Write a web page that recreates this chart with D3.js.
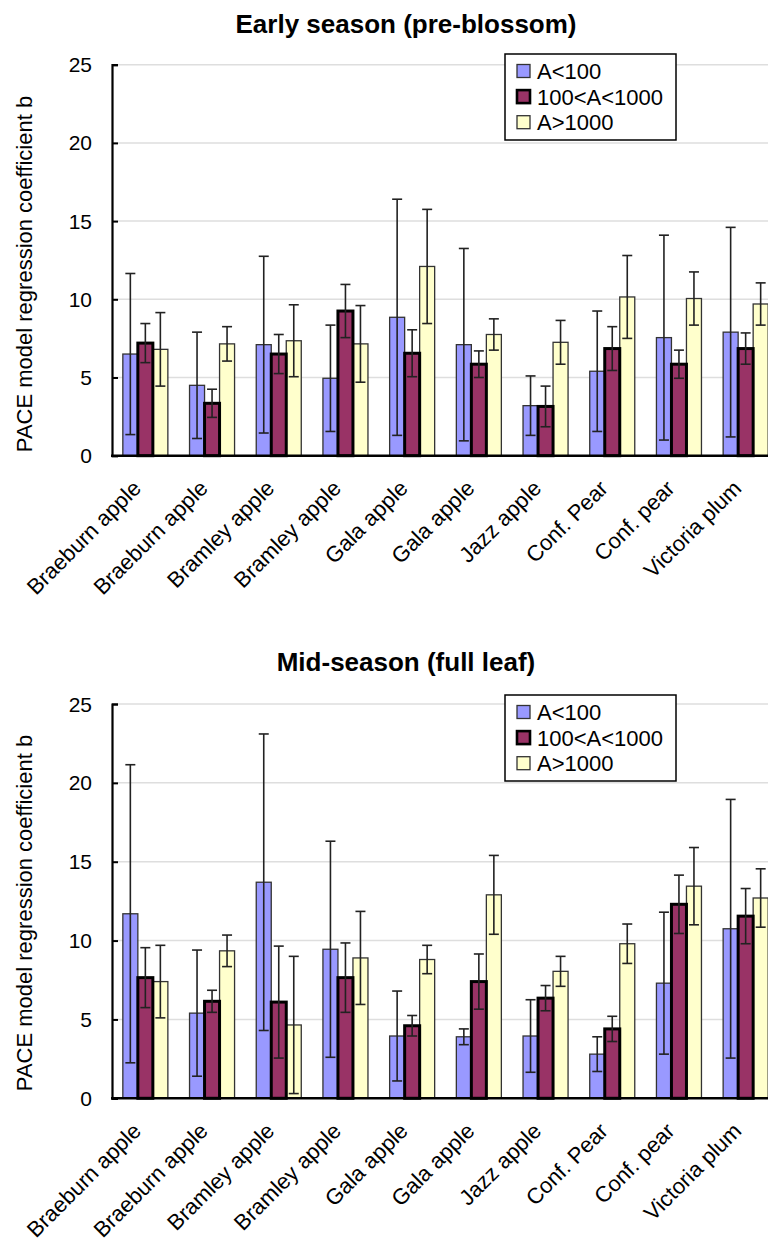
<!DOCTYPE html>
<html>
<head>
<meta charset="utf-8">
<script src="https://cdn.jsdelivr.net/npm/d3@7"></script>
<style>
  body { margin: 0; background: #fff; }
  svg { display: block; font-family: "Liberation Sans", Arial, sans-serif; }
</style>
</head>
<body>
<div id="chart"></div>
<script>
// categories (two of each apple kind in the source)
const categories = ["Braeburn apple", "Braeburn apple", "Bramley apple", "Bramley apple", "Gala apple",
    "Gala apple", "Jazz apple", "Conf. Pear", "Conf. pear", "Victoria plum"];
const seriesNames = ["A<100", "100<A<1000", "A>1000"];
const yTicks = [0, 5, 10, 15, 20, 25];

// Early season (pre-blossom)
const early_low = [6.5, 4.5, 7.1, 4.95, 8.85, 7.1, 3.2, 5.4, 7.55, 7.9];
const early_low_err = [5.15, 3.4, 5.65, 3.4, 7.55, 6.15, 1.9, 3.85, 6.55, 6.7];
const early_mid = [7.2, 3.35, 6.5, 9.25, 6.55, 5.85, 3.15, 6.85, 5.85, 6.85];
const early_mid_err = [1.25, 0.9, 1.25, 1.7, 1.5, 0.85, 1.3, 1.4, 0.9, 1.0];
const early_high = [6.8, 7.15, 7.35, 7.15, 12.1, 7.75, 7.25, 10.15, 10.05, 9.7];
const early_high_err = [2.35, 1.1, 2.3, 2.45, 3.65, 1.0, 1.4, 2.65, 1.7, 1.35];

// Mid-season (full leaf)
const mid_low = [11.7, 5.4, 13.7, 9.45, 3.95, 3.9, 3.95, 2.8, 7.3, 10.75];
const mid_low_err = [9.45, 4.0, 9.4, 6.85, 2.85, 0.5, 2.3, 1.1, 4.5, 8.2];
const mid_mid = [7.65, 6.15, 6.1, 7.65, 4.6, 7.4, 6.35, 4.4, 12.3, 11.55];
const mid_mid_err = [1.9, 0.7, 3.55, 2.2, 0.65, 1.75, 0.8, 0.8, 1.85, 1.75];
const mid_high = [7.4, 9.35, 4.65, 8.9, 8.8, 12.9, 8.05, 9.8, 13.45, 12.7];
const mid_high_err = [2.3, 1.0, 4.35, 2.95, 0.9, 2.5, 0.95, 1.25, 2.45, 1.85];

const W = 768, H = 1243;
const fills = ["#9999ff", "#993366", "#ffffcc"];
const strokes = ["#333", "#000", "#333"];
const strokeW = [1.3, 3, 1.3];

const svg = d3.select("#chart").append("svg").attr("width", W).attr("height", H);

function drawChart(opt) {
    const { title, titleY, y0, y1, legendY, labelCY, values, errors } = opt;

    const x = d3.scaleBand()
        .domain(d3.range(categories.length))
        .range([112, 779])
        .paddingInner(0.325)
        .paddingOuter(0.1625);
    const xs = d3.scaleBand().domain(d3.range(3)).range([0, x.bandwidth()]);
    const y = d3.scaleLinear().domain([0, 25]).range([y0, y1]);

    const g = svg.append("g");

    g.append("text")
        .attr("x", 406).attr("y", titleY)
        .attr("text-anchor", "middle")
        .style("font-size", "26px").style("font-weight", "bold")
        .text(title);

    // grid
    g.selectAll(".grid").data(yTicks.filter(d => d > 0)).enter().append("line")
        .attr("x1", 112).attr("x2", W)
        .attr("y1", d => y(d)).attr("y2", d => y(d))
        .attr("stroke", "#dedede").attr("stroke-width", 1.5);

    // y axis
    const ya = g.append("g").attr("transform", "translate(112,0)")
        .call(d3.axisRight(y).tickValues(yTicks).tickSize(6).tickFormat(""));
    ya.select(".domain").attr("stroke", "#000").attr("stroke-width", 2.2);
    ya.selectAll(".tick line").attr("stroke", "#000").attr("stroke-width", 2);

    g.selectAll(".ylab").data(yTicks).enter().append("text")
        .attr("x", 92).attr("y", d => y(d)).attr("dy", "0.36em")
        .attr("text-anchor", "end").style("font-size", "21px")
        .text(d => d);

    g.append("text")
        .attr("transform", `translate(32,${labelCY}) rotate(-90)`)
        .attr("text-anchor", "middle").style("font-size", "22px")
        .text("PACE model regression coefficient b");

    // bars (maroon drawn last so its thick border stays visible)
    [0, 2, 1].forEach(s => {
        g.selectAll(".bar" + s).data(values[s]).enter().append("rect")
            .attr("x", (d, i) => x(i) + xs(s))
            .attr("y", d => y(d))
            .attr("width", xs.bandwidth())
            .attr("height", d => y(0) - y(d))
            .attr("fill", fills[s])
            .attr("stroke", strokes[s])
            .attr("stroke-width", strokeW[s]);
    });

    // error bars
    for (let s = 0; s < 3; s++) {
        const eg = g.append("g").attr("stroke", "#222").attr("stroke-width", 1.6);
        values[s].forEach((v, i) => {
            const cx = x(i) + xs(s) + xs.bandwidth() / 2;
            const hi = y(v + errors[s][i]), lo = y(v - errors[s][i]);
            eg.append("line").attr("x1", cx).attr("x2", cx).attr("y1", hi).attr("y2", lo);
            eg.append("line").attr("x1", cx - 5).attr("x2", cx + 5).attr("y1", hi).attr("y2", hi);
            eg.append("line").attr("x1", cx - 5).attr("x2", cx + 5).attr("y1", lo).attr("y2", lo);
        });
    }

    // x axis baseline
    g.append("line").attr("x1", 111).attr("x2", W).attr("y1", y(0)).attr("y2", y(0))
        .attr("stroke", "#000").attr("stroke-width", 2.5);

    g.selectAll(".xlab").data(categories).enter().append("text")
        .attr("transform", (d, i) => `translate(${x(i) + x.bandwidth() / 2 - 3},${y(0) + 34}) rotate(-45)`)
        .attr("text-anchor", "end").style("font-size", "22px")
        .text(d => d);

    // legend
    const lg = g.append("g").attr("transform", `translate(505,${legendY})`);
    lg.append("rect").attr("width", 171).attr("height", 86)
        .attr("fill", "#fff").attr("stroke", "#000").attr("stroke-width", 1.5);
    seriesNames.forEach((name, s) => {
        const cy = 17 + s * 25.6;
        lg.append("rect").attr("x", 12).attr("y", cy - 6.5).attr("width", 13).attr("height", 13)
            .attr("fill", fills[s]).attr("stroke", strokes[s]).attr("stroke-width", s === 1 ? 2.6 : 1.3);
        lg.append("text").attr("x", 32).attr("y", cy).attr("dy", "0.36em")
            .style("font-size", "22px").text(name);
    });
}

drawChart({
    title: "Early season (pre-blossom)", titleY: 32.7,
    y0: 455.7, y1: 64.7, legendY: 54, labelCY: 274,
    values: [early_low, early_mid, early_high],
    errors: [early_low_err, early_mid_err, early_high_err]
});

drawChart({
    title: "Mid-season (full leaf)", titleY: 670.7,
    y0: 1098.3, y1: 704, legendY: 695, labelCY: 913,
    values: [mid_low, mid_mid, mid_high],
    errors: [mid_low_err, mid_mid_err, mid_high_err]
});
</script>
</body>
</html>
